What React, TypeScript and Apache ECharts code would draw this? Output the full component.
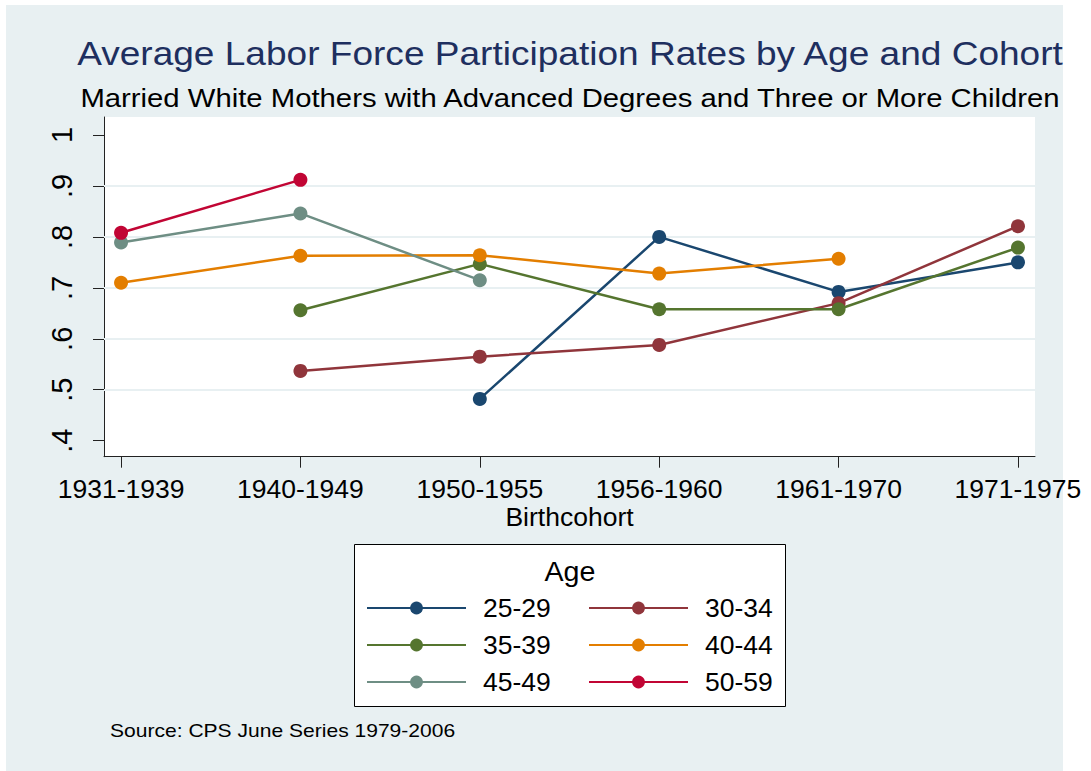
import React, { useEffect, useRef } from "react";
import * as echarts from "echarts";

const cohorts = ["1931-1939", "1940-1949", "1950-1955", "1956-1960", "1961-1970", "1971-1975"];
const ageGroups = ["25-29", "30-34", "35-39", "40-44", "45-49", "50-59"];
const age2529 = [null, null, 0.482, 0.8, 0.692, 0.75];
const age3034 = [null, 0.537, 0.565, 0.588, 0.67, 0.821];
const age3539 = [null, 0.656, 0.747, 0.658, 0.658, 0.779];
const age4044 = [0.71, 0.763, 0.764, 0.728, 0.757, null];
const age4549 = [0.789, 0.846, 0.715, null, null, null];
const age5059 = [0.808, 0.912, null, null, null, null];
const yTicks = [0.4, 0.5, 0.6, 0.7, 0.8, 0.9, 1];
const gridValues = [0.5, 0.6, 0.7, 0.8, 0.9];

const colors = ["#1a476f", "#90353b", "#55752f", "#e37e00", "#6e8e84", "#c10534"];
const FONT = "'Liberation Sans', Arial, sans-serif";

export default function App() {
  const ref = useRef<HTMLDivElement>(null);
  useEffect(() => {
    if (!ref.current) return;
    const chart = echarts.init(ref.current, undefined, { renderer: "svg" });
    const all = [age2529, age3034, age3539, age4044, age4549, age5059];
    const toPairs = (arr: (number | null)[]) =>
      arr.map((v, i) => (v == null ? null : [i, v])).filter((p) => p !== null);
    const series: any[] = [
      {
        type: "line",
        name: "__grid",
        data: [],
        z: 1,
        silent: true,
        markLine: {
          z: 1,
          silent: true,
          symbol: "none",
          label: { show: false },
          lineStyle: { color: "#e8f0f2", width: 2, type: "solid" },
          data: gridValues.map((v) => ({ yAxis: v })),
        },
      },
    ];
    ageGroups.forEach((name, k) => {
      series.push({
        type: "line",
        name,
        z: 3,
        data: toPairs(all[k]),
        symbol: "circle",
        symbolSize: 14,
        showAllSymbol: true,
        lineStyle: { color: colors[k], width: 2.5 },
        itemStyle: { color: colors[k] },
        emphasis: { disabled: true },
      });
    });
    const legendCommon = {
      orient: "vertical",
      padding: 0,
      itemWidth: 99,
      itemHeight: 16,
      itemGap: 10,
      top: 594.5,
      z: 5,
      selectedMode: false,
      textStyle: {
        fontFamily: FONT,
        fontSize: 26.5,
        lineHeight: 27,
        color: "#000",
        padding: [0, 0, 0, 12],
      },
    };
    chart.setOption({
      animation: false,
      backgroundColor: "transparent",
      color: colors,
      grid: {
        left: 104,
        top: 117,
        width: 931,
        height: 339.7,
        show: true,
        backgroundColor: "#ffffff",
        borderWidth: 0,
      },
      xAxis: {
        type: "value",
        min: -0.095,
        max: 5.095,
        name: "Birthcohort",
        nameLocation: "middle",
        nameGap: 43,
        nameTextStyle: { fontFamily: FONT, fontSize: 26.5, color: "#000" },
        axisLine: { show: true, onZero: false, lineStyle: { color: "#222", width: 1 } },
        axisTick: { show: true, length: 11, customValues: [0, 1, 2, 3, 4, 5], lineStyle: { color: "#222" } },
        axisLabel: {
          customValues: [0, 1, 2, 3, 4, 5],
          margin: 19,
          fontFamily: FONT,
          fontSize: 26.5,
          color: "#000",
          formatter: (v: number) => cohorts[Math.round(v)] ?? "",
        },
        splitLine: { show: false },
      },
      yAxis: {
        type: "value",
        min: 0.3686,
        max: 1.0353,
        axisLine: { show: true, onZero: false, lineStyle: { color: "#222", width: 1 } },
        axisTick: { show: true, length: 11, customValues: yTicks, lineStyle: { color: "#222" } },
        axisLabel: {
          customValues: yTicks,
          rotate: 90,
          margin: 27.5,
          fontFamily: FONT,
          fontSize: 29,
          color: "#000",
          formatter: (v: number) => (Math.abs(v - 1) < 1e-6 ? "1" : "." + Math.round(v * 10)),
        },
        splitLine: { show: false },
      },
      legend: [
        { ...legendCommon, left: 366, data: ["25-29", "35-39", "45-49"] },
        { ...legendCommon, left: 588, data: ["30-34", "40-44", "50-59"] },
      ],
      graphic: [
        {
          type: "text",
          x: 570,
          y: 53.2,
          scaleX: 1.09,
          style: {
            text: "Average Labor Force Participation Rates by Age and Cohort",
            fontFamily: FONT,
            fontSize: 34,
            fill: "#1e2f5f",
            align: "center",
            verticalAlign: "middle",
          },
        },
        {
          type: "text",
          x: 570,
          y: 97.8,
          scaleX: 1.172,
          style: {
            text: "Married White Mothers with Advanced Degrees and Three or More Children",
            fontFamily: FONT,
            fontSize: 25,
            fill: "#000",
            align: "center",
            verticalAlign: "middle",
          },
        },
        {
          type: "rect",
          z: 1,
          shape: { x: 354.5, y: 544.5, width: 431, height: 162 },
          style: { fill: "#ffffff", stroke: "#000", lineWidth: 1 },
        },
        {
          type: "text",
          z: 2,
          x: 570,
          y: 571.3,
          scaleX: 1.06,
          style: {
            text: "Age",
            fontFamily: FONT,
            fontSize: 27,
            fill: "#000",
            align: "center",
            verticalAlign: "middle",
          },
        },
        {
          type: "text",
          x: 110,
          y: 731,
          scaleX: 1.17,
          style: {
            text: "Source: CPS June Series 1979-2006",
            fontFamily: FONT,
            fontSize: 18,
            fill: "#000",
            align: "left",
            verticalAlign: "middle",
          },
        },
      ],
      series,
    });
    return () => chart.dispose();
  }, []);
  return (
    <div style={{ position: "fixed", left: 0, top: 0, width: 1091, height: 771, background: "#ffffff" }}>
      <div style={{ position: "absolute", left: 6, top: 5, width: 1057, height: 766, background: "#e8f0f2" }} />
      <div ref={ref} style={{ position: "absolute", left: 0, top: 0, width: 1091, height: 771 }} />
    </div>
  );
}
